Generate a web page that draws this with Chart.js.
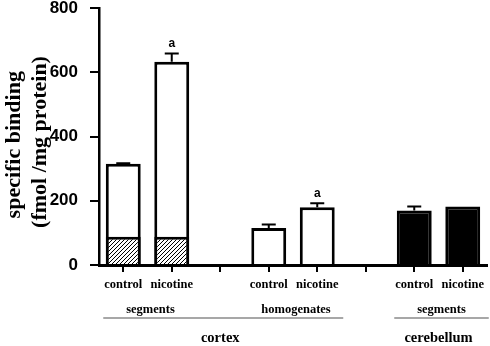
<!DOCTYPE html>
<html>
<head>
<meta charset="utf-8">
<script src="https://cdn.jsdelivr.net/npm/chart.js@4.4.0/dist/chart.umd.min.js"></script>
<style>
  html, body { margin: 0; padding: 0; background: #fff; }
</style>
</head>
<body>
<canvas id="chart" width="490" height="346"></canvas>
<script>
// values
const categories = ['control', 'nicotine', '', 'control', 'nicotine', '', 'control', 'nicotine'];
const totalBinding = [315, 633, null, 115, 180, null, 170, 182];
const hatchedBinding = [88, 88, null, null, null, null, null, null];
const sem = [2, 25, null, 11, 12, null, 12, null];
const significance = ['', 'a', '', '', 'a', '', '', ''];
const barColors = ['#fff', '#fff', '#fff', '#fff', '#fff', '#fff', '#000', '#000'];
const yTicks = [0, 200, 400, 600, 800];

// group labels under the axis
const subGroups = [
  { label: 'segments', from: 0, to: 1 },
  { label: 'homogenates', from: 3, to: 4 },
  { label: 'segments', from: 6, to: 7 }
];
const regions = [
  { label: 'cortex', from: 0, to: 4 },
  { label: 'cerebellum', from: 6, to: 7 }
];

// hatch pattern ////
function makeHatch() {
  const c = document.createElement('canvas');
  c.width = 4; c.height = 4;
  const g = c.getContext('2d');
  g.fillStyle = '#fff';
  g.fillRect(0, 0, 4, 4);
  g.strokeStyle = '#000';
  g.lineWidth = 1;
  g.beginPath();
  g.moveTo(0, 4); g.lineTo(4, 0);
  g.moveTo(-1, 1); g.lineTo(1, -1);
  g.moveTo(3, 5); g.lineTo(5, 3);
  g.stroke();
  return g.createPattern(c, 'repeat');
}

const errorBars = {
  id: 'errorBars',
  afterDatasetsDraw(chart) {
    const ctx = chart.ctx;
    const x = chart.scales.x, y = chart.scales.y;
    ctx.save();
    ctx.strokeStyle = '#000';
    ctx.lineWidth = 2;
    totalBinding.forEach((v, i) => {
      if (v == null || !sem[i]) return;
      const px = x.getPixelForValue(i);
      const top = y.getPixelForValue(v);
      const errTop = y.getPixelForValue(v + sem[i]);
      ctx.beginPath();
      ctx.moveTo(px, top);
      ctx.lineTo(px, errTop);
      ctx.moveTo(px - 7, errTop);
      ctx.lineTo(px + 7, errTop);
      ctx.stroke();
      if (significance[i]) {
        ctx.fillStyle = '#000';
        ctx.font = 'bold 12px "Liberation Sans"';
        ctx.textAlign = 'center';
        ctx.textBaseline = 'middle';
        ctx.fillText(significance[i], px, errTop - 10);
      }
    });
    ctx.restore();
  }
};

const groupLabels = {
  id: 'groupLabels',
  afterDraw(chart) {
    const ctx = chart.ctx;
    const x = chart.scales.x;
    ctx.save();
    ctx.fillStyle = '#000';
    ctx.textAlign = 'center';
    ctx.textBaseline = 'middle';
    ctx.font = 'bold 12.5px "Liberation Serif"';
    subGroups.forEach(g => {
      const cx = (x.getPixelForValue(g.from) + x.getPixelForValue(g.to)) / 2;
      ctx.fillText(g.label, cx + 3, 310);
    });
    ctx.strokeStyle = '#8a8a8a';
    ctx.lineWidth = 1.5;
    regions.forEach(r => {
      const a = x.getPixelForValue(r.from) - 20;
      const b = x.getPixelForValue(r.to) + 26;
      ctx.beginPath();
      ctx.moveTo(a, 318);
      ctx.lineTo(b, 318);
      ctx.stroke();
    });
    ctx.font = 'bold 14.5px "Liberation Serif"';
    regions.forEach(r => {
      const cx = (x.getPixelForValue(r.from) + x.getPixelForValue(r.to)) / 2;
      ctx.fillText(r.label, cx, 338);
    });
    ctx.restore();
  }
};

const ctx = document.getElementById('chart').getContext('2d');
new Chart(ctx, {
  type: 'bar',
  data: {
    labels: categories,
    datasets: [
      {
        data: hatchedBinding,
        backgroundColor: makeHatch(),
        borderColor: '#000',
        borderWidth: 3,
        borderSkipped: 'start'
      },
      {
        data: totalBinding,
        backgroundColor: barColors,
        borderColor: '#000',
        borderWidth: 3,
        borderSkipped: 'start'
      }
    ]
  },
  options: {
    responsive: false,
    animation: false,
    events: [],
    layout: { padding: { top: 8, right: 3, bottom: 0, left: 0 } },
    datasets: {
      bar: { grouped: false, barPercentage: 0.72, categoryPercentage: 1 }
    },
    plugins: {
      legend: { display: false },
      tooltip: { enabled: false }
    },
    scales: {
      x: {
        offset: true,
        grid: {
          offset: false,
          drawOnChartArea: false,
          color: '#000',
          lineWidth: 2,
          tickLength: 7
        },
        border: { color: '#000', width: 3 },
        ticks: {
          color: '#000',
          padding: 5,
          maxRotation: 0,
          autoSkip: false,
          font: { family: 'Liberation Serif', size: 12.5, weight: 'bold' }
        },
        afterFit(scale) { scale.height = 81; }
      },
      y: {
        min: 0,
        max: 800,
        afterBuildTicks(scale) { scale.ticks = yTicks.map(v => ({ value: v })); },
        grid: {
          drawOnChartArea: false,
          color: '#000',
          lineWidth: 2,
          tickLength: 9
        },
        border: { color: '#000', width: 2.5 },
        ticks: {
          color: '#000',
          padding: 12,
          font: { family: 'Liberation Sans', size: 17, weight: 'bold' }
        },
        title: {
          display: true,
          text: ['specific binding   ', '(fmol /mg protein)  '],
          color: '#000',
          padding: { top: 1, bottom: 0 },
          font: { family: 'Liberation Serif', size: 22, weight: 'bold', lineHeight: 1.2 }
        },
        afterFit(scale) {
          scale.width = 99;
          scale.paddingTop = 0;
          scale.paddingBottom = 0;
        }
      }
    }
  },
  plugins: [errorBars, groupLabels]
});
</script>
</body>
</html>
